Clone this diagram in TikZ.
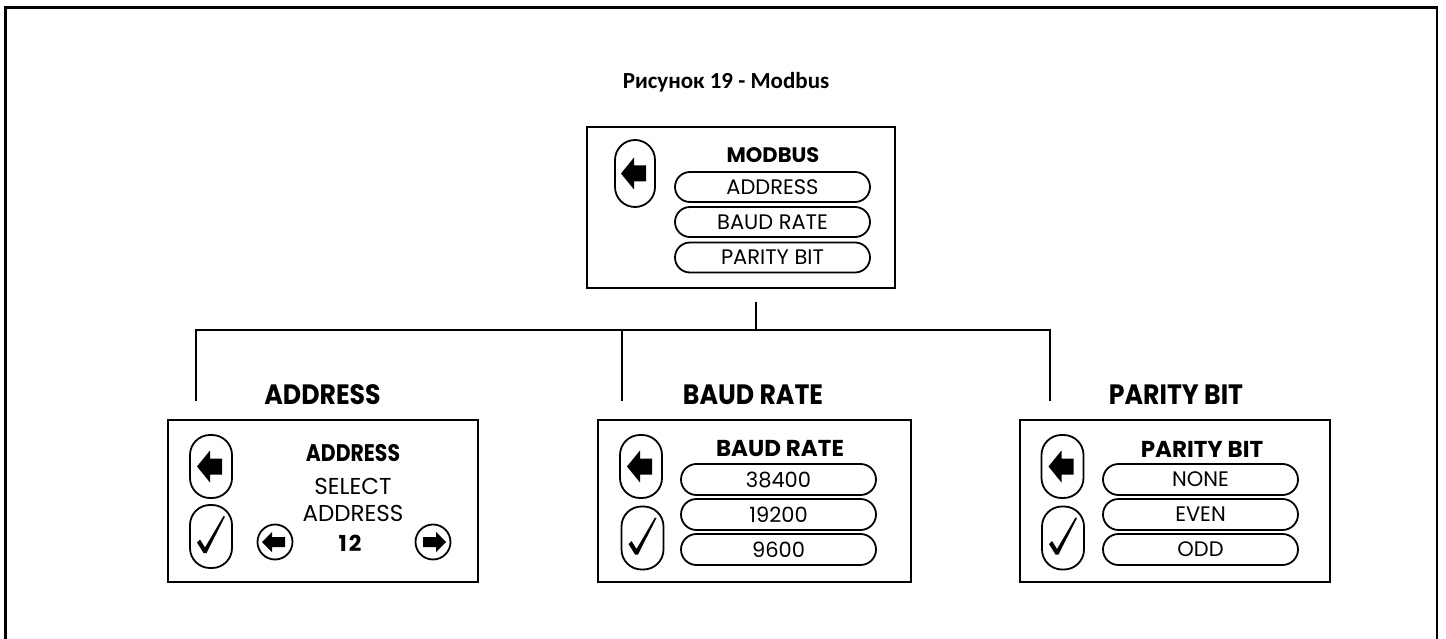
\documentclass[tikz,border=0pt]{standalone}
\usepackage{fontspec}
\setmainfont{Poppins}
\newfontfamily\capfont{Carlito}
\usetikzlibrary{shapes.misc}
\begin{document}
\begin{tikzpicture}[x=1pt,y=-1pt,
  outer/.style={line width=2.6pt},
  screen/.style={draw, line width=2.6pt, inner sep=0pt},
  pill/.style={draw, rounded rectangle, line width=1.8pt, minimum width=195pt, minimum height=30pt, inner sep=0pt, font=\fontsize{21}{21}\selectfont},
  btn/.style={draw, rectangle, rounded corners=20pt, line width=1.8pt, minimum width=41pt, minimum height=64pt, inner sep=0pt},
  rbtn/.style={draw, circle, line width=1.8pt, minimum size=35pt, inner sep=0pt},
  wire/.style={line width=2.2pt},
  title/.style={font=\fontsize{28}{28}\selectfont\bfseries, inner sep=0pt},
  head/.style={font=\fontsize{23}{23}\selectfont\bfseries, inner sep=0pt},
  txt/.style={font=\fontsize{23}{23}\selectfont, inner sep=0pt},
  larr/.pic={\fill (-14,0) -- (-1,-16) -- (-1,-8) -- (11,-8) -- (11,8) -- (-1,8) -- (-1,16) -- cycle;},
  sarr/.pic={\fill (-13,0) -- (-3,-10) -- (-3,-5) -- (10,-5) -- (10,5) -- (-3,5) -- (-3,10) -- cycle;},
  chk/.pic={\fill (-14,6) -- (-11,3) -- (-6,11) -- (12.5,-20.5) -- (14,-20) -- (-4.5,16.5) -- (-7.5,16.5) -- cycle;}
]
\useasboundingbox (0,0) rectangle (1446,639);
\clip (0,0) rectangle (1446,639);
\fill[white] (0,0) rectangle (1446,639);
\draw[outer] (5.5,7.5) rectangle (1437,700);

\node[font=\capfont\fontsize{23}{23}\selectfont\bfseries, inner sep=0pt] (cap) at (726,82) {Рисунок 19 - Modbus};

% top screen
\node[screen, minimum width=308pt, minimum height=161pt] (top) at (741,207.5) {};
\node[btn, minimum width=40pt, minimum height=67pt] (tback) at (635,173.5) {};
\pic at (tback.center) {larr};
\node[font=\fontsize{21}{21}\selectfont\bfseries, inner sep=0pt] (tmod) at (773,155) {MODBUS};
\node[pill] (tp1) at (772.5,187) {ADDRESS};
\node[pill] (tp2) at (772.5,222) {BAUD RATE};
\node[pill] (tp3) at (772.5,257.5) {PARITY BIT};

% tree
\coordinate (t0) at (756,302);
\coordinate (t1) at (756,330);
\coordinate (la) at (196,330);
\coordinate (ra) at (1050,330);
\coordinate (mb) at (622,330);
\coordinate (la2) at (196,401);
\coordinate (mb2) at (622,401);
\coordinate (ra2) at (1050,401);
\draw[wire] (t0) -- (t1);
\draw[wire] (la2) -- (la) -- (ra) -- (ra2);
\draw[wire] (mb) -- (mb2);

% titles
\node[title] (ta) at (322.5,395) {\scalebox{0.9}[1]{ADDRESS}};
\node[title] (tb) at (753,395) {\scalebox{0.9}[1]{BAUD RATE}};
\node[title] (tc) at (1176,395) {\scalebox{0.9}[1]{PARITY BIT}};

% address screen
\node[screen, minimum width=310pt, minimum height=162pt] (sa) at (323,501) {};
\node[btn, minimum width=42pt, minimum height=63pt] (aback) at (211,466.5) {};
\pic at (aback.center) {larr};
\node[btn, minimum width=42pt, minimum height=63pt] (aok) at (211,536.5) {};
\pic at (aok.center) {chk};
\node[font=\fontsize{24}{24}\selectfont\bfseries, inner sep=0pt] (ah) at (353,453) {\scalebox{0.85}[1]{ADDRESS}};
\node[txt] (asel) at (353,486) {SELECT};
\node[txt] (aadr) at (353,513) {ADDRESS};
\node[font=\fontsize{22}{22}\selectfont\bfseries, inner sep=0pt] (anum) at (350,543) {1\kern2pt 2};
\node[rbtn] (aleft) at (275,542) {};
\pic at (aleft.center) {sarr};
\node[rbtn] (aright) at (433,542) {};
\pic[xscale=-1] at (aright.center) {sarr};

% baud screen
\node[screen, minimum width=313pt, minimum height=162pt] (sb) at (754.5,501) {};
\node[btn, minimum width=42pt, minimum height=63pt] (bback) at (641,466.5) {};
\pic at (bback.center) {larr};
\node[btn, minimum width=42pt, minimum height=63pt] (bok) at (642.5,538) {};
\pic at (bok.center) {chk};
\node[head] (bh) at (780,449) {BAUD RATE};
\node[pill, minimum height=31pt] (bp1) at (778.5,479.5) {38400};
\node[pill, minimum height=31pt] (bp2) at (778.5,514.5) {19200};
\node[pill, minimum height=31pt] (bp3) at (778.5,549.5) {9600};

% parity screen
\node[screen, minimum width=310pt, minimum height=162pt] (sc) at (1175,501) {};
\node[btn, minimum width=42pt, minimum height=63pt] (cback) at (1062.5,466.5) {};
\pic at (cback.center) {larr};
\node[btn, minimum width=42pt, minimum height=63pt] (cok) at (1063,538) {};
\pic at (cok.center) {chk};
\node[head] (ch) at (1202,449) {PARITY BIT};
\node[pill, minimum height=31pt] (cp1) at (1200.5,479.5) {NONE};
\node[pill, minimum height=31pt] (cp2) at (1200.5,514.5) {EVEN};
\node[pill, minimum height=31pt] (cp3) at (1200.5,549.5) {ODD};
\end{tikzpicture}
\end{document}
